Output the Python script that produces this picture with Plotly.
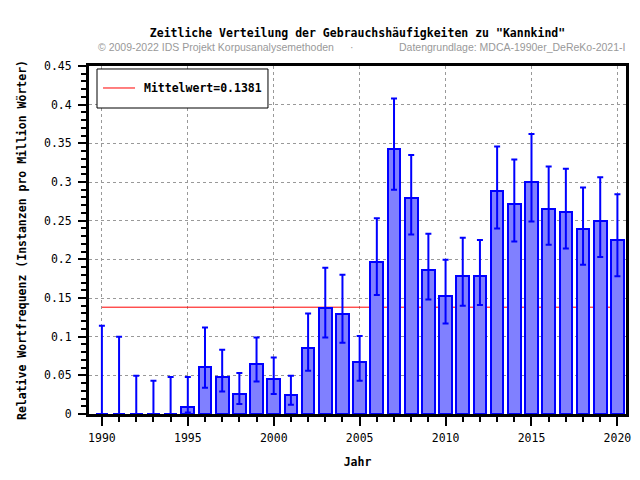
import plotly.graph_objects as go

years = list(range(1990, 2021))
freq = [0, 0, 0, 0, 0, 0.0086, 0.061, 0.048, 0.026, 0.065, 0.045, 0.024, 0.085,
        0.1366, 0.129, 0.067, 0.197, 0.343, 0.279, 0.186, 0.153, 0.179, 0.179,
        0.288, 0.271, 0.2996, 0.265, 0.261, 0.239, 0.249, 0.2246]
upper = [0.114, 0.100, 0.0496, 0.043, 0.048, 0.048, 0.112, 0.083, 0.053, 0.099,
         0.073, 0.0496, 0.130, 0.189, 0.180, 0.101, 0.253, 0.408, 0.335, 0.233,
         0.1996, 0.228, 0.225, 0.346, 0.329, 0.362, 0.320, 0.317, 0.293, 0.306, 0.284]
lower = [0, 0, 0, 0, 0, 0.002, 0.034, 0.029, 0.013, 0.042, 0.026, 0.012, 0.056,
         0.099, 0.092, 0.043, 0.154, 0.290, 0.232, 0.148, 0.117, 0.140, 0.141,
         0.240, 0.223, 0.249, 0.219, 0.214, 0.193, 0.203, 0.178]
MEAN = 0.1381

title = 'Zeitliche Verteilung der Gebrauchshäufigkeiten zu "Kannkind"'
sub_left = "© 2009-2022 IDS Projekt Korpusanalysemethoden"
sub_mid = "·"
sub_right = "Datengrundlage: MDCA-1990er_DeReKo-2021-I"
xtitle = "Jahr"
ytitle = "Relative Wortfrequenz (Instanzen pro Million Wörter)"

MONO = "DejaVu Sans Mono"
FS = 11.5
SANS = "Liberation Sans Narrow, Liberation Sans, Arial"

err_plus = [u - f for u, f in zip(upper, freq)]
err_minus = [f - l for f, l in zip(freq, lower)]

fig = go.Figure()
fig.add_trace(go.Bar(
    x=years, y=freq, width=0.74,
    marker=dict(color="#8080FF", line=dict(color="#0000FF", width=2)),
    error_y=dict(type="data", symmetric=False, array=err_plus, arrayminus=err_minus,
                 color="#0000FF", thickness=2, width=3),
    showlegend=False, hoverinfo="x+y",
))

# mean line (below bars)
fig.add_shape(type="line", xref="x", yref="y", x0=years[0], x1=years[-1],
              y0=MEAN, y1=MEAN, line=dict(color="#FF0000", width=1), layer="between")

# legend box
fig.add_shape(type="rect", xref="paper", yref="paper", x0=0.0149, x1=0.3333,
              y0=0.8793, y1=0.9914, line=dict(color="black", width=1),
              fillcolor="white", layer="above")
fig.add_shape(type="line", xref="paper", yref="paper", x0=0.0261, x1=0.0857,
              y0=0.9368, y1=0.9368, line=dict(color="#FF0000", width=1), layer="above")
fig.add_annotation(xref="paper", yref="paper", x=0.0987, y=0.9368, xanchor="left",
                   yanchor="middle", showarrow=False, text=f"<b>Mittelwert={MEAN}</b>",
                   font=dict(family=MONO, size=FS, color="black"))

# subtitle
SUBY = (414 - 47) / 348
fig.add_annotation(xref="paper", yref="paper", x=(96 - 89) / 537, y=SUBY,
                   xanchor="left", yanchor="middle", showarrow=False, text=sub_left,
                   font=dict(family=SANS, size=10.5, color="#999999"))
fig.add_annotation(xref="paper", yref="paper", x=(352 - 89) / 537, y=SUBY,
                   xanchor="center", yanchor="middle", showarrow=False, text=sub_mid,
                   font=dict(family=SANS, size=10.5, color="#999999"))
fig.add_annotation(xref="paper", yref="paper", x=(627 - 89) / 537, y=SUBY,
                   xanchor="right", yanchor="middle", showarrow=False, text=sub_right,
                   font=dict(family=SANS, size=10.5, color="#999999"))

axis_common = dict(
    showline=True, mirror=True, linecolor="black", linewidth=3,
    showgrid=True, gridcolor="#999999", griddash="dot", gridwidth=1,
    zeroline=False, ticks="outside", tickcolor="black", tickwidth=2,
    tickfont=dict(family=MONO, size=FS, color="black"),
)

fig.update_layout(
    width=640, height=480,
    margin=dict(l=89, r=14, t=66, b=66, autoexpand=False),
    paper_bgcolor="white", plot_bgcolor="white",
    title=dict(text=f"<b>{title}</b>", x=0.5, xref="paper", y=1 - 33 / 480,
               xanchor="center", yanchor="middle",
               font=dict(family=MONO, size=FS, color="black")),
    xaxis=dict(range=[1989.25, 2020.5], tickmode="linear", tick0=1990, dtick=5,
               ticklen=9, ticklabelstandoff=2,
               minor=dict(dtick=1, tick0=1990, ticklen=5, tickwidth=2, tickcolor="black",
                          ticks="outside", showgrid=False),
               title=dict(text=f"<b>{xtitle}</b>", standoff=15,
                          font=dict(family=MONO, size=FS, color="black")),
               **axis_common),
    yaxis=dict(range=[0, 0.45], tickmode="linear", tick0=0, dtick=0.05,
               ticklen=8, ticklabelstandoff=4,
               minor=dict(dtick=0.01, tick0=0, ticklen=5, tickwidth=2, tickcolor="black",
                          ticks="outside", showgrid=False),
               title=dict(text=f"<b>{ytitle}</b>", standoff=15,
                          font=dict(family=MONO, size=FS, color="black")),
               **axis_common),
    bargap=0, showlegend=False,
)

fig.write_html("out.html", post_script="document.body.style.margin='0';",
               config={"displayModeBar": False})
